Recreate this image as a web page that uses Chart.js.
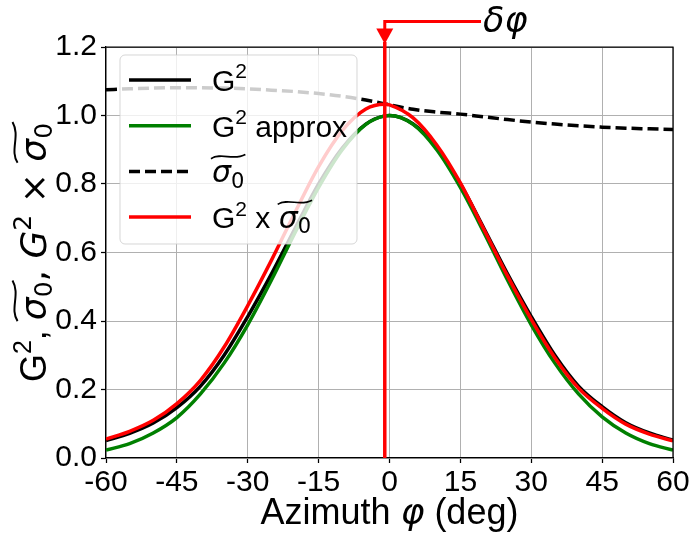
<!DOCTYPE html>
<html>
<head>
<meta charset="utf-8">
<script src="https://cdn.jsdelivr.net/npm/chart.js@4.4.1/dist/chart.umd.min.js"></script>
<style>
  html, body { margin: 0; padding: 0; background: #fff; }
  canvas { display: block; }
</style>
</head>
<body>
<canvas id="myChart" width="694" height="534"></canvas>
<script>
// azimuth (deg) and the curves
const azimuth = [-60, -55, -50, -45, -40, -35, -30, -25, -20, -15, -10, -5, -1, 0, 5, 10, 15, 20, 25, 30, 35, 40, 45, 50, 55, 60];
const gainSq = [0.051, 0.072, 0.102, 0.147, 0.210, 0.300, 0.413, 0.537, 0.670, 0.800, 0.905, 0.975, 0.999, 1.000, 0.975, 0.905, 0.800, 0.670, 0.537, 0.413, 0.300, 0.210, 0.150, 0.103, 0.073, 0.052];
const gainSqApprox = [0.023, 0.042, 0.073, 0.118, 0.187, 0.277, 0.389, 0.519, 0.658, 0.790, 0.900, 0.974, 0.999, 1.000, 0.974, 0.900, 0.790, 0.658, 0.519, 0.389, 0.277, 0.187, 0.120, 0.073, 0.042, 0.023];
const sigma0 = [1.075, 1.078, 1.080, 1.081, 1.081, 1.080, 1.078, 1.074, 1.070, 1.064, 1.056, 1.045, 1.034, 1.031, 1.018, 1.010, 1.004, 0.996, 0.988, 0.981, 0.975, 0.970, 0.966, 0.963, 0.961, 0.959];
const gainSqSigma = [0.055, 0.078, 0.110, 0.159, 0.227, 0.324, 0.445, 0.577, 0.717, 0.851, 0.956, 1.019, 1.033, 1.031, 0.993, 0.914, 0.803, 0.667, 0.531, 0.405, 0.293, 0.204, 0.145, 0.099, 0.070, 0.050];
const deltaPhi = -1;
const xTicks = [-60, -45, -30, -15, 0, 15, 30, 45, 60];
const yTicks = [0.0, 0.2, 0.4, 0.6, 0.8, 1.0, 1.2];

const SANS = '"Liberation Sans", Arial, sans-serif';
const MATH = '"DejaVu Sans", sans-serif';

const pts = vals => azimuth.map((a, i) => ({x: a, y: vals[i]}));

// little rich-text helper: runs of text with super/subscripts and a wide tilde
function runFont(r, size) {
    const s = Math.round(size * (r.sc || 1));
    return (r.it ? 'italic ' : '') + s + 'px ' + (r.math ? MATH : SANS);
}
function runsWidth(ctx, runs, size) {
    let w = 0;
    runs.forEach(r => { ctx.font = runFont(r, size); w += ctx.measureText(r.t).width; });
    return w;
}
function drawTilde(ctx, x0, x1, yc, a, lw) {
    const w = x1 - x0;
    ctx.save();
    ctx.lineWidth = lw;
    ctx.strokeStyle = '#000';
    ctx.beginPath();
    ctx.moveTo(x0, yc + a);
    ctx.bezierCurveTo(x0 + 0.3 * w, yc - 2.2 * a, x0 + 0.65 * w, yc + 2.2 * a, x1, yc - a);
    ctx.stroke();
    ctx.restore();
}
function drawRuns(ctx, runs, x, y, size) {
    let cx = x, tStart = null;
    ctx.textAlign = 'left';
    ctx.textBaseline = 'alphabetic';
    ctx.fillStyle = '#000';
    runs.forEach(r => {
        ctx.font = runFont(r, size);
        if (r.tl === 'start') tStart = cx;
        ctx.fillText(r.t, cx, y + (r.dy || 0) * size);
        cx += ctx.measureText(r.t).width;
        if (r.tl === 'end' && tStart !== null) {
            drawTilde(ctx, tStart - 1, cx + 1, y - size * 0.86, size * 0.07, size * 0.055);
            tStart = null;
        }
    });
    return cx - x;
}

const SUP = {sc: 0.7, dy: -0.42};
const SUB = {sc: 0.7, dy: 0.17};
const sigmaTilde = [
    {t: 'σ', it: true, math: true, tl: 'start'},
    Object.assign({t: '0', math: true, tl: 'end'}, SUB)
];

const legendItems = [
    {color: '#000000', dash: [], runs: [{t: 'G'}, Object.assign({t: '2'}, SUP)]},
    {color: '#008000', dash: [], runs: [{t: 'G'}, Object.assign({t: '2'}, SUP), {t: ' approx'}]},
    {color: '#000000', dash: [11, 5], runs: sigmaTilde},
    {color: '#ff0000', dash: [], runs: [{t: 'G'}, Object.assign({t: '2'}, SUP), {t: ' x '}].concat(sigmaTilde)}
];

const yTitleRuns = [
    {t: 'G'}, Object.assign({t: '2'}, SUP), {t: ', '},
    ...sigmaTilde, {t: ', ', math: true},
    {t: 'G', it: true, math: true}, Object.assign({t: '2', math: true}, SUP),
    {t: ' × ', math: true},
    ...sigmaTilde
];
const xTitleRuns = [{t: 'Azimuth '}, {t: 'φ', it: true, math: true}, {t: ' (deg)'}];

const decorPlugin = {
    id: 'decor',
    afterDatasetsDraw(chart) {
        const ctx = chart.ctx;
        const a = chart.chartArea;
        const xs = chart.scales.x;
        ctx.save();
        // top and right spines
        ctx.strokeStyle = '#000';
        ctx.lineWidth = 1.25;
        ctx.beginPath();
        ctx.moveTo(a.left, a.top);
        ctx.lineTo(a.right, a.top);
        ctx.lineTo(a.right, a.bottom);
        ctx.stroke();

        // delta phi annotation arrow
        const xv = xs.getPixelForValue(deltaPhi);
        ctx.strokeStyle = '#ff0000';
        ctx.fillStyle = '#ff0000';
        ctx.lineWidth = 3;
        ctx.beginPath();
        ctx.moveTo(481, 21.5);
        ctx.lineTo(xv, 21.5);
        ctx.lineTo(xv, 30);
        ctx.stroke();
        ctx.beginPath();
        ctx.moveTo(xv - 8.5, 28.5);
        ctx.lineTo(xv + 8.5, 28.5);
        ctx.lineTo(xv, 44);
        ctx.closePath();
        ctx.fill();
        ctx.fillRect(xv - 1.75, 42, 3.5, a.top - 41);
        drawRuns(ctx, [{t: 'δφ', it: true, math: true}], 483, 32, 35);

        // legend box
        const bx = 120, by = 55, bw = 237, bh = 189, r = 5;
        ctx.beginPath();
        ctx.moveTo(bx + r, by);
        ctx.arcTo(bx + bw, by, bx + bw, by + bh, r);
        ctx.arcTo(bx + bw, by + bh, bx, by + bh, r);
        ctx.arcTo(bx, by + bh, bx, by, r);
        ctx.arcTo(bx, by, bx + bw, by, r);
        ctx.closePath();
        ctx.fillStyle = 'rgba(255,255,255,0.8)';
        ctx.fill();
        ctx.strokeStyle = 'rgba(204,204,204,0.8)';
        ctx.lineWidth = 1;
        ctx.stroke();
        legendItems.forEach((it, i) => {
            const ry = 80 + i * 45.7;
            ctx.strokeStyle = it.color;
            ctx.lineWidth = 3.5;
            ctx.setLineDash(it.dash);
            ctx.beginPath();
            ctx.moveTo(129, ry);
            ctx.lineTo(191, ry);
            ctx.stroke();
            ctx.setLineDash([]);
            drawRuns(ctx, it.runs, 212, ry + 11, 30);
        });

        // axis titles
        const xw = runsWidth(ctx, xTitleRuns, 36);
        drawRuns(ctx, xTitleRuns, (a.left + a.right) / 2 - xw / 2, 524, 36);
        const yw = runsWidth(ctx, yTitleRuns, 36);
        ctx.translate(46, (a.top + a.bottom) / 2);
        ctx.rotate(-Math.PI / 2);
        drawRuns(ctx, yTitleRuns, -yw / 2, 0, 36);
        ctx.restore();
    }
};

const lineStyle = {
    pointRadius: 0,
    borderWidth: 3.5,
    cubicInterpolationMode: 'monotone',
    fill: false
};

const myChart = new Chart(document.getElementById('myChart'), {
    type: 'line',
    data: {
        datasets: [
            Object.assign({label: 'G2', data: pts(gainSq), borderColor: '#000000', order: 5}, lineStyle),
            Object.assign({label: 'G2 approx', data: pts(gainSqApprox), borderColor: '#008000', order: 4}, lineStyle),
            Object.assign({label: 'sigma0', data: pts(sigma0), borderColor: '#000000', borderDash: [11, 5], order: 3}, lineStyle),
            Object.assign({label: 'G2 x sigma0', data: pts(gainSqSigma), borderColor: '#ff0000', order: 2}, lineStyle),
            {label: 'delta phi', data: [{x: deltaPhi, y: yTicks[0]}, {x: deltaPhi, y: yTicks[yTicks.length - 1]}],
             borderColor: '#ff0000', borderWidth: 3.5, pointRadius: 0, order: 1}
        ]
    },
    options: {
        responsive: false,
        animation: false,
        layout: { padding: { top: 47, right: 21, left: 0, bottom: 0 } },
        plugins: {
            legend: { display: false },
            tooltip: { enabled: false }
        },
        scales: {
            x: {
                type: 'linear',
                min: xTicks[0],
                max: xTicks[xTicks.length - 1],
                afterBuildTicks: s => { s.ticks = xTicks.map(v => ({value: v})); },
                afterFit: s => { s.height = 76; },
                grid: { color: '#b0b0b0', lineWidth: 1, tickColor: '#000', tickLength: 5, tickWidth: 1.25 },
                border: { display: true, color: '#000', width: 1.25 },
                ticks: {
                    color: '#000',
                    padding: 2,
                    maxRotation: 0,
                    font: { family: SANS, size: 30 },
                    callback: v => String(v)
                }
            },
            y: {
                min: yTicks[0],
                max: yTicks[yTicks.length - 1],
                afterBuildTicks: s => { s.ticks = yTicks.map(v => ({value: v})); },
                afterFit: s => { s.width = 106; },
                grid: { color: '#b0b0b0', lineWidth: 1, tickColor: '#000', tickLength: 5, tickWidth: 1.25 },
                border: { display: true, color: '#000', width: 1.25 },
                ticks: {
                    color: '#000',
                    padding: 4,
                    font: { family: SANS, size: 30 },
                    callback: v => Number(v).toFixed(1)
                }
            }
        }
    },
    plugins: [decorPlugin]
});
</script>
</body>
</html>
